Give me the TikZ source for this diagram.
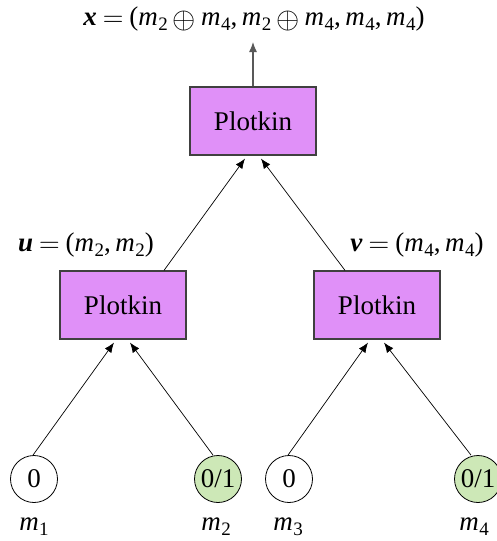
\documentclass[tikz,border=0pt]{standalone}
\usepackage{fontspec}
\usepackage{graphicx}
\setmainfont{Liberation Serif}
\usetikzlibrary{arrows.meta}
\definecolor{boxfill}{RGB}{224,144,248}
\definecolor{leaffill}{RGB}{205,232,183}
\definecolor{edgegray}{RGB}{64,64,64}
\newcommand{\mv}[1]{\textit{m}\kern0.5pt\raisebox{-5pt}{\fontsize{19}{20}\selectfont #1}}
\newcommand{\bv}[1]{\textbf{\textit{#1}}}
\newcommand{\cm}{,\kern4.5pt}
\newcommand{\eqs}{\kern6pt\raisebox{-1pt}{\scalebox{1.15}{$=$}}\kern6pt}
\newcommand{\opl}{\kern5pt\raisebox{-3pt}{\scalebox{1.2}{$\oplus$}}\kern5pt}
\begin{document}
\begin{tikzpicture}[x=1pt,y=-1pt,
  every node/.style={font=\fontsize{27}{32}\selectfont, inner sep=0pt},
  plotkin/.style={draw=edgegray, line width=1.2pt, fill=boxfill, minimum width=126pt, minimum height=68pt},
  leaf/.style={draw=black, line width=0.8pt, circle, minimum size=47pt},
  conn/.style={line width=0.7pt, -{Latex[length=10pt,width=8pt]}}
]
\useasboundingbox (0,0) rectangle (496,541);
\node (xlab) at (254,19) {\bv{x}\eqs(\mv{2}\opl\mv{4}\cm\mv{2}\opl\mv{4}\cm\mv{4}\cm\mv{4})};
\node[plotkin] (top) at (253,121) {Plotkin};
\node[plotkin] (pl) at (123,305) {Plotkin};
\node[plotkin] (pr) at (377,305) {Plotkin};
\node (ulab) at (86,245) {\bv{u}\eqs(\mv{2}\cm\mv{2})};
\node (vlab) at (417,245) {\bv{v}\eqs(\mv{4}\cm\mv{4})};
\node[leaf] (c1) at (34,479) {0};
\node[leaf, fill=leaffill] (c2) at (218,479) {0/1};
\node[leaf] (c3) at (289,479) {0};
\node[leaf, fill=leaffill] (c4) at (478,479) {0/1};
\node (m1) at (34,527) {\mv{1}};
\node (m2) at (216,527) {\mv{2}};
\node (m3) at (288,527) {\mv{3}};
\node (m4) at (474,527) {\mv{4}};
\coordinate (xend) at (253,42);
\draw[conn, draw=gray!70!black, line width=1.2pt] (top.north) -- (xend);
\draw[conn] ([xshift=41pt]pl.north) -- ([xshift=-8pt,yshift=-3pt]top.south);
\draw[conn] ([xshift=-32pt]pr.north) -- ([xshift=8pt,yshift=-3pt]top.south);
\draw[conn] ([xshift=-1pt]c1.north) -- ([xshift=-9pt,yshift=-3pt]pl.south);
\draw[conn] ([xshift=-5pt]c2.north) -- ([xshift=7pt,yshift=-3pt]pl.south);
\draw[conn] ([xshift=-1pt]c3.north) -- ([xshift=-9pt,yshift=-3pt]pr.south);
\draw[conn] ([xshift=-7pt]c4.north) -- ([xshift=7pt,yshift=-3pt]pr.south);
\end{tikzpicture}
\end{document}
